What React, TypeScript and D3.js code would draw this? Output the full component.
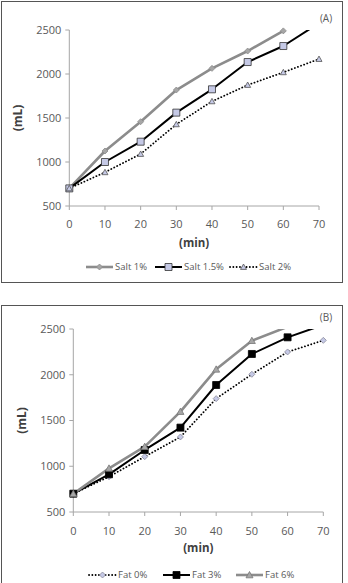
import React from "react";
import * as d3 from "d3";

// Sampling times (min)
const minutes = [0, 10, 20, 30, 40, 50, 60, 70];
const xTicks = [0, 10, 20, 30, 40, 50, 60, 70];
const yTicks = [500, 1000, 1500, 2000, 2500];

// Panel A: salt levels (mL)
const salt1 = [700, 1125, 1458, 1818, 2064, 2261, 2490];
const salt15 = [700, 1000, 1231, 1561, 1826, 2136, 2318, 2578];
const salt2 = [700, 883, 1091, 1428, 1689, 1875, 2019, 2170];

// Panel B: fat levels (mL)
const fat0 = [700, 886, 1105, 1320, 1739, 2005, 2249, 2376];
const fat3 = [700, 912, 1178, 1422, 1888, 2227, 2409, 2545];
const fat6 = [700, 977, 1214, 1597, 2059, 2372, 2524];

type Marker = "diamond" | "square" | "triangle";
type Series = {
  name: string;
  values: number[];
  stroke: string;
  width: number;
  dash?: string;
  marker: Marker;
  mFill: string;
  mStroke: string;
  mSize: number;
};

const FONT = "'Open Sans', 'Liberation Sans', sans-serif";
const TICK_COLOR = "#595959";

function markerPath(kind: Marker, s: number): string {
  const h = s / 2;
  if (kind === "square") return `M${-h},${-h}H${h}V${h}H${-h}Z`;
  if (kind === "diamond") return `M0,${-h}L${h},0L0,${h}L${-h},0Z`;
  return `M0,${-h}L${h},${h * 0.8}L${-h},${h * 0.8}Z`;
}

type PanelProps = {
  id: string;
  label: string;
  box: { x: number; y: number; w: number; h: number };
  plot: { x0: number; x1: number; y0: number; y1: number };
  xLabelY: number;
  titleY: number;
  yTitleX: number;
  legendY: number;
  legendX: number[];
  labelPos: [number, number];
  series: Series[];
};

function Panel(p: PanelProps) {
  const x = d3.scaleLinear().domain([0, 70]).range([p.plot.x0, p.plot.x1]);
  const y = d3.scaleLinear().domain([500, 2500]).range([p.plot.y1, p.plot.y0]);
  const line = d3
    .line<number>()
    .x((_, i) => x(minutes[i]))
    .y((d) => y(d));
  const clipId = `clip-${p.id}`;
  return (
    <g>
      <rect x={p.box.x} y={p.box.y} width={p.box.w} height={p.box.h} fill="#fff" stroke="#555" strokeWidth={1} />
      <defs>
        <clipPath id={clipId}>
          <rect x={p.plot.x0 - 10} y={p.plot.y0} width={p.plot.x1 - p.plot.x0 + 20} height={p.plot.y1 - p.plot.y0 + 10} />
        </clipPath>
      </defs>
      {/* axes */}
      <line x1={x(0)} x2={x(0)} y1={y(500)} y2={y(2500)} stroke="#a6a6a6" strokeWidth={1} />
      <line x1={x(0)} x2={x(70)} y1={y(500)} y2={y(500)} stroke="#a6a6a6" strokeWidth={1} />
      {yTicks.map((t) => (
        <g key={`y${t}`}>
          <line x1={x(0) - 4} x2={x(0)} y1={y(t)} y2={y(t)} stroke="#a6a6a6" />
          <text x={x(0) - 8} y={y(t)} dy="0.35em" textAnchor="end" fontSize={11} fill={TICK_COLOR} fontFamily={FONT}>
            {t}
          </text>
        </g>
      ))}
      {xTicks.map((t) => (
        <g key={`x${t}`}>
          <line x1={x(t)} x2={x(t)} y1={y(500)} y2={y(500) + 4} stroke="#a6a6a6" />
          <text x={x(t)} y={p.xLabelY} dy="0.35em" textAnchor="middle" fontSize={11} fill={TICK_COLOR} fontFamily={FONT}>
            {t}
          </text>
        </g>
      ))}
      <text x={(p.plot.x0 + p.plot.x1) / 2} y={p.titleY} dy="0.35em" textAnchor="middle" fontSize={11.5} fontWeight="bold" fill="#404040" fontFamily={FONT}>
        (min)
      </text>
      <text
        transform={`translate(${p.yTitleX},${(p.plot.y0 + p.plot.y1) / 2}) rotate(-90)`}
        dy="0.35em"
        textAnchor="middle"
        fontSize={12}
        fontWeight="bold"
        fill="#404040"
        fontFamily={FONT}
      >
        (mL)
      </text>
      <text x={p.labelPos[0]} y={p.labelPos[1]} dy="0.35em" textAnchor="middle" fontSize={10} fill={TICK_COLOR} fontFamily={FONT}>
        {p.label}
      </text>
      {/* series lines */}
      <g clipPath={`url(#${clipId})`}>
        {p.series.map((s) => (
          <path
            key={s.name}
            d={line(s.values) || ""}
            fill="none"
            stroke={s.stroke}
            strokeWidth={s.width}
            strokeDasharray={s.dash}
            strokeLinecap={s.dash ? "round" : "butt"}
            strokeLinejoin="round"
          />
        ))}
      </g>
      {/* markers */}
      {p.series.map((s) =>
        s.values.map((v, i) =>
          v <= 2500 ? (
            <path
              key={`${s.name}-${i}`}
              d={markerPath(s.marker, s.mSize)}
              transform={`translate(${x(minutes[i])},${y(v)})`}
              fill={s.mFill}
              stroke={s.mStroke}
              strokeWidth={0.8}
            />
          ) : null
        )
      )}
      {/* legend */}
      {p.series.map((s, i) => {
        const lx = p.legendX[i];
        return (
          <g key={`leg-${s.name}`}>
            <line
              x1={lx}
              x2={lx + 27}
              y1={p.legendY}
              y2={p.legendY}
              stroke={s.stroke}
              strokeWidth={s.width}
              strokeDasharray={s.dash}
              strokeLinecap={s.dash ? "round" : "butt"}
            />
            <path d={markerPath(s.marker, s.mSize)} transform={`translate(${lx + 13.5},${p.legendY})`} fill={s.mFill} stroke={s.mStroke} strokeWidth={0.8} />
            <text x={lx + 29} y={p.legendY} dy="0.35em" fontSize={9.5} fill={TICK_COLOR} fontFamily={FONT}>
              {s.name}
            </text>
          </g>
        );
      })}
    </g>
  );
}

const seriesA: Series[] = [
  { name: "Salt 1%", values: salt1, stroke: "#8c8c8c", width: 2.6, marker: "diamond", mFill: "#a6a6a6", mStroke: "#8c8c8c", mSize: 6 },
  { name: "Salt 1.5%", values: salt15, stroke: "#000", width: 2, marker: "square", mFill: "#c5c9e6", mStroke: "#333", mSize: 7 },
  { name: "Salt 2%", values: salt2, stroke: "#000", width: 1.8, dash: "0.1 3.2", marker: "triangle", mFill: "#c5c9e6", mStroke: "#555", mSize: 6 },
];

const seriesB: Series[] = [
  { name: "Fat 0%", values: fat0, stroke: "#000", width: 1.8, dash: "0.1 3.2", marker: "diamond", mFill: "#c5c9e6", mStroke: "#8a8a9a", mSize: 6 },
  { name: "Fat 3%", values: fat3, stroke: "#000", width: 2, marker: "square", mFill: "#000", mStroke: "#000", mSize: 7 },
  { name: "Fat 6%", values: fat6, stroke: "#8c8c8c", width: 2.6, marker: "triangle", mFill: "#a6a6a6", mStroke: "#777", mSize: 7 },
];

export default function App() {
  return (
    <svg width={348} height={583} style={{ position: "absolute", left: 0, top: 0, background: "#fff" }}>
      <Panel
        id="a"
        label="(A)"
        box={{ x: 1.5, y: 1.5, w: 341, h: 281 }}
        plot={{ x0: 69.3, x1: 319, y0: 30, y1: 206 }}
        xLabelY={224}
        titleY={243}
        yTitleX={18}
        legendY={267}
        legendX={[86, 155, 230]}
        labelPos={[326, 18]}
        series={seriesA}
      />
      <Panel
        id="b"
        label="(B)"
        box={{ x: 1.5, y: 305.5, w: 341, h: 290 }}
        plot={{ x0: 73.3, x1: 323.3, y0: 329, y1: 512 }}
        xLabelY={531}
        titleY={548}
        yTitleX={22}
        legendY={575}
        legendX={[89, 163, 236]}
        labelPos={[326, 317]}
        series={seriesB}
      />
    </svg>
  );
}
